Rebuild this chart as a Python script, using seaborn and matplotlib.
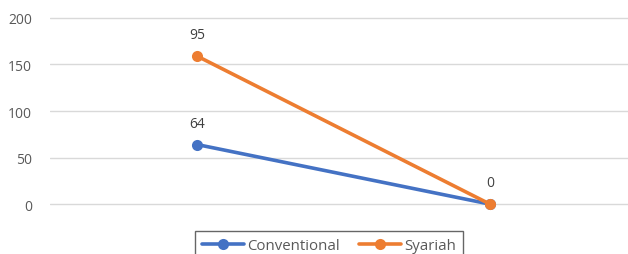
import matplotlib
matplotlib.use("Agg")
import matplotlib.pyplot as plt
import seaborn as sns
import pandas as pd
import numpy as np
from matplotlib.lines import Line2D

categories = ["Category 1", "Category 2"]
conventional = [64, 0]
syariah = [95, 0]

sns.set_theme(style="white")
plt.rcParams['font.family'] = ['Open Sans', 'DejaVu Sans']

blue = "#4472C4"
orange = "#ED7D31"
txt = "#595959"

# stacked line chart: syariah drawn on top of conventional
conv_arr = np.array(conventional, dtype=float)
sya_top = conv_arr + np.array(syariah, dtype=float)
df = pd.DataFrame({
    "x": list(range(len(categories))) * 2,
    "value": list(conv_arr) + list(sya_top),
    "series": ["Conventional"] * len(categories) + ["Syariah"] * len(categories),
})

fig = plt.figure(figsize=(6.28, 2.55), dpi=100)
W, H = 628, 255
ax = fig.add_axes([50 / W, (H - 207) / H, (628 - 50) / W, (207 - 17) / H])

sns.lineplot(data=df, x="x", y="value", hue="series",
             palette={"Conventional": blue, "Syariah": orange},
             marker="o", markersize=8, markeredgewidth=0, linewidth=2.6,
             ax=ax, legend=False, clip_on=False, zorder=3)

ax.set_xlim(-147 / 293, 1 + 138 / 293)
ax.set_ylim(-2, 202)
ax.set_yticks([0, 50, 100, 150, 200])
ax.yaxis.grid(True, color="#D9D9D9", linewidth=1)
ax.set_axisbelow(True)
for s in ax.spines.values():
    s.set_visible(False)
ax.set_xticks([])
ax.set_xlabel("")
ax.set_ylabel("")
ax.tick_params(axis="y", length=0, pad=13, labelsize=10, labelcolor=txt)

# data labels (conventional at first point, syariah at both points)
ax.annotate(str(conventional[0]), (0, conv_arr[0]), xytext=(0, 10),
            textcoords="offset points", ha="center", va="bottom",
            fontsize=10, color="#404040")
for i in range(len(categories)):
    ax.annotate(str(syariah[i]), (i, sya_top[i]), xytext=(0, 10),
                textcoords="offset points", ha="center", va="bottom",
                fontsize=10, color="#404040")

handles = [Line2D([], [], color=blue, lw=2.6, marker="o", markersize=8, markeredgewidth=0),
           Line2D([], [], color=orange, lw=2.6, marker="o", markersize=8, markeredgewidth=0)]
leg = fig.legend(handles, ["Conventional", "Syariah"], loc="upper center",
                 bbox_to_anchor=(329 / W, (H - 232) / H), ncol=2, frameon=True,
                 fancybox=False, edgecolor="#404040", fontsize=10.8,
                 handlelength=2.8, columnspacing=1.3, handletextpad=0.2,
                 borderpad=0.45, borderaxespad=0)
for t in leg.get_texts():
    t.set_color(txt)
leg.get_frame().set_linewidth(1.0)

fig.savefig("out.png", dpi=100, facecolor="white")
